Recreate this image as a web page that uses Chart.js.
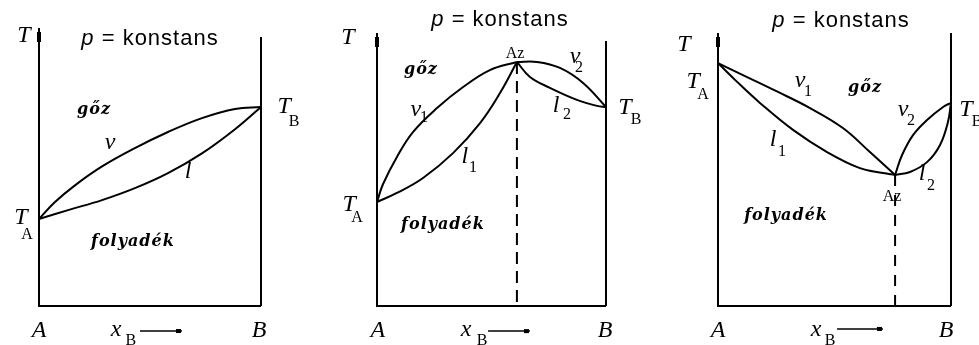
<!DOCTYPE html>
<html>
<head>
<meta charset="utf-8">
<script src="https://cdn.jsdelivr.net/npm/chart.js@4.4.0/dist/chart.umd.min.js"></script>
<style>
  body { margin: 0; background: #fff; }
  canvas.panel { position: absolute; top: 0; }
</style>
</head>
<body>
<canvas id="ideal" class="panel" width="320" height="345" style="left:0px"></canvas>
<canvas id="maxAz" class="panel" width="330" height="345" style="left:320px"></canvas>
<canvas id="minAz" class="panel" width="329" height="345" style="left:650px"></canvas>
<script>
// x = mole fraction of B, T in arbitrary units (0 = bottom axis, 100 = top of T axis)

// ideal mixture
const idealVaporX = [0, 0.072, 0.162, 0.284, 0.432, 0.581, 0.734, 0.883, 1];
const idealVaporT = [31.3, 37.4, 43.4, 50.2, 56.8, 62.6, 67.6, 70.9, 71.6];
const idealLiquidX = [0, 0.131, 0.284, 0.432, 0.581, 0.734, 0.883, 1];
const idealLiquidT = [31.3, 34.5, 38.1, 42.4, 47.8, 54.9, 63.6, 71.6];

// maximum boiling azeotrope
const maxVapor1X = [0, 0.026, 0.087, 0.157, 0.262, 0.376, 0.493, 0.611];
const maxVapor1T = [38.1, 44.6, 54.6, 63.7, 72.5, 80.2, 86.4, 89.4];
const maxLiquid1X = [0, 0.087, 0.201, 0.332, 0.450, 0.537, 0.611];
const maxLiquid1T = [38.1, 41.4, 46.9, 56.0, 67.0, 78.0, 89.4];
const maxVapor2X = [0.611, 0.699, 0.799, 0.900, 1];
const maxVapor2T = [89.4, 89.4, 87.2, 81.7, 72.9];
const maxLiquid2X = [0.611, 0.668, 0.755, 0.873, 0.961, 1];
const maxLiquid2T = [89.4, 83.9, 79.9, 75.5, 73.3, 72.9];

// minimum boiling azeotrope
const minVapor1X = [0, 0.107, 0.253, 0.395, 0.536, 0.652, 0.760];
const minVapor1T = [89.0, 84.6, 78.6, 72.5, 65.2, 56.4, 48.0];
const minLiquid1X = [0, 0.082, 0.180, 0.322, 0.468, 0.609, 0.708, 0.760];
const minLiquid1T = [89.0, 82.1, 74.4, 64.5, 56.4, 50.5, 48.7, 48.0];
const minVapor2X = [0.760, 0.790, 0.837, 0.897, 0.966, 1];
const minVapor2T = [48.0, 55.3, 62.6, 68.1, 72.9, 74.4];
const minLiquid2X = [0.760, 0.824, 0.897, 0.953, 0.987, 1];
const minLiquid2T = [48.0, 49.1, 52.7, 59.0, 67.4, 74.4];

// azeotrope compositions / temperatures (max, min)
const azeoX = [0.611, 0.760];
const azeoT = [89.4, 48.0];

// height of the right (pure B) wall
const wallTop = [96.8, 97.1, 100];

const fonts = {
  sym: 'italic 24px "Liberation Serif"',
  sub: '16px "Liberation Serif"',
  word: 'italic bold 16px "DejaVu Serif"',
  title: '22px "Liberation Sans"'
};

function pts(xs, ys) {
  return xs.map((x, i) => ({ x: x, y: ys[i] }));
}

function line(xs, ys, extra) {
  return Object.assign({
    data: pts(xs, ys),
    showLine: true,
    borderColor: '#000',
    borderWidth: 2,
    pointRadius: 0,
    tension: 0.4,
    clip: false
  }, extra || {});
}

function makeDiagramPlugin(labels, arrow) {
  return {
    id: 'diagram',
    afterDatasetsDraw(chart) {
      const ctx = chart.ctx;
      const px = v => chart.scales.x.getPixelForValue(v);
      const py = v => chart.scales.y.getPixelForValue(v);
      ctx.save();
      ctx.strokeStyle = '#000';
      ctx.fillStyle = '#000';

      // T axis and composition axis
      ctx.lineWidth = 2;
      ctx.beginPath();
      ctx.moveTo(px(0), py(100));
      ctx.lineTo(px(0), py(0));
      ctx.lineTo(px(1), py(0));
      ctx.stroke();
      ctx.fillRect(px(0) - 2, py(100) + 4, 4, 10);

      // x_B arrow
      ctx.lineWidth = 1.5;
      ctx.beginPath();
      ctx.moveTo(px(arrow[0]), py(arrow[2]));
      ctx.lineTo(px(arrow[1]), py(arrow[2]));
      ctx.stroke();
      ctx.fillRect(px(arrow[1]) - 6, py(arrow[2]) - 2, 5, 4);

      ctx.textAlign = 'center';
      ctx.textBaseline = 'middle';
      labels.forEach(([text, x, y, kind]) => {
        const cx = px(x), cy = py(y);
        if (kind === 'title') {
          // italic p, then the rest upright
          ctx.letterSpacing = '1px';
          ctx.font = 'italic ' + fonts.title;
          const w1 = ctx.measureText(text[0]).width;
          ctx.font = fonts.title;
          const rest = text.slice(1);
          const w2 = ctx.measureText(rest).width;
          const x0 = cx - (w1 + w2) / 2;
          ctx.textAlign = 'left';
          ctx.font = 'italic ' + fonts.title;
          ctx.fillText(text[0], x0, cy);
          ctx.font = fonts.title;
          ctx.fillText(rest, x0 + w1, cy);
          ctx.textAlign = 'center';
          return;
        }
        ctx.font = fonts[kind];
        ctx.letterSpacing = kind === 'word' ? '1px' : '0px';
        ctx.fillText(text, cx, cy);
      });
      ctx.letterSpacing = '0px';
      ctx.restore();
    }
  };
}

function drawPanel(id, padding, datasets, labels, arrow) {
  new Chart(document.getElementById(id), {
    type: 'scatter',
    data: { datasets: datasets },
    options: {
      responsive: false,
      animation: false,
      devicePixelRatio: 1,
      layout: { padding: padding },
      scales: {
        x: { type: 'linear', min: 0, max: 1, display: false },
        y: { type: 'linear', min: 0, max: 100, display: false }
      },
      plugins: { legend: { display: false }, tooltip: { enabled: false } }
    },
    plugins: [makeDiagramPlugin(labels, arrow)]
  });
}

drawPanel('ideal', { left: 39, right: 59, top: 28, bottom: 39 }, [
  line(idealVaporX, idealVaporT),
  line(idealLiquidX, idealLiquidT),
  line([1, 1], [0, wallTop[0]])
], [
  ['p = konstans', 0.5, 96.0, 'title'],
  ['T', -0.068, 97.1, 'sym'],
  ['gőz', 0.248, 70.5, 'word'],
  ['ν', 0.320, 58.6, 'sym'],
  ['l', 0.671, 48.2, 'sym'],
  ['T', -0.081, 31.7, 'sym'],
  ['A', -0.054, 25.5, 'sub'],
  ['T', 1.104, 71.6, 'sym'],
  ['B', 1.149, 66.2, 'sub'],
  ['folyadék', 0.423, 23.0, 'word'],
  ['A', 0, -9.0, 'sym'],
  ['x', 0.347, -8.6, 'sym'],
  ['B', 0.414, -12.6, 'sub'],
  ['B', 0.991, -9.0, 'sym']
], [0.455, 0.644, -9.0]);

drawPanel('maxAz', { left: 57, right: 44, top: 33, bottom: 39 }, [
  line(maxVapor1X, maxVapor1T),
  line(maxLiquid1X, maxLiquid1T),
  line(maxVapor2X, maxVapor2T),
  line(maxLiquid2X, maxLiquid2T),
  line([azeoX[0], azeoX[0]], [azeoT[0], 0], { borderDash: [12, 7], tension: 0 }),
  line([1, 1], [0, wallTop[1]])
], [
  ['p = konstans', 0.537, 104.8, 'title'],
  ['T', -0.127, 98.2, 'sym'],
  ['gőz', 0.192, 86.4, 'word'],
  ['Az', 0.603, 92.3, 'sub'],
  ['ν', 0.170, 71.8, 'sym'],
  ['1', 0.205, 68.9, 'sub'],
  ['l', 0.384, 54.6, 'sym'],
  ['1', 0.419, 50.5, 'sub'],
  ['ν', 0.865, 91.2, 'sym'],
  ['2', 0.882, 87.2, 'sub'],
  ['l', 0.782, 73.3, 'sym'],
  ['2', 0.830, 70.0, 'sub'],
  ['T', -0.122, 37.0, 'sym'],
  ['A', -0.087, 32.2, 'sub'],
  ['T', 1.083, 72.5, 'sym'],
  ['B', 1.131, 68.1, 'sub'],
  ['folyadék', 0.288, 29.7, 'word'],
  ['A', 0.004, -9.2, 'sym'],
  ['x', 0.389, -8.8, 'sym'],
  ['B', 0.459, -12.8, 'sub'],
  ['B', 0.996, -9.2, 'sym']
], [0.485, 0.668, -9.2]);

drawPanel('minAz', { left: 68, right: 28, top: 33, bottom: 39 }, [
  line(minVapor1X, minVapor1T),
  line(minLiquid1X, minLiquid1T),
  line(minVapor2X, minVapor2T),
  line(minLiquid2X, minLiquid2T),
  line([azeoX[1], azeoX[1]], [azeoT[1], 0], { borderDash: [11, 9], tension: 0 }),
  line([1, 1], [0, wallTop[2]])
], [
  ['p = konstans', 0.528, 104.4, 'title'],
  ['T', -0.146, 95.6, 'sym'],
  ['T', -0.107, 82.1, 'sym'],
  ['A', -0.064, 77.3, 'sub'],
  ['ν', 0.352, 82.4, 'sym'],
  ['1', 0.386, 78.4, 'sub'],
  ['gőz', 0.631, 79.9, 'word'],
  ['ν', 0.794, 71.8, 'sym'],
  ['2', 0.828, 67.8, 'sub'],
  ['l', 0.236, 60.8, 'sym'],
  ['1', 0.275, 56.4, 'sub'],
  ['l', 0.876, 48.4, 'sym'],
  ['2', 0.914, 44.0, 'sub'],
  ['Az', 0.747, 39.9, 'sub'],
  ['folyadék', 0.292, 33.0, 'word'],
  ['T', 1.064, 71.8, 'sym'],
  ['B', 1.112, 67.4, 'sub'],
  ['A', 0, -9.2, 'sym'],
  ['x', 0.421, -8.8, 'sym'],
  ['B', 0.481, -12.8, 'sub'],
  ['B', 0.979, -9.2, 'sym']
], [0.511, 0.708, -8.4]);
</script>
</body>
</html>
